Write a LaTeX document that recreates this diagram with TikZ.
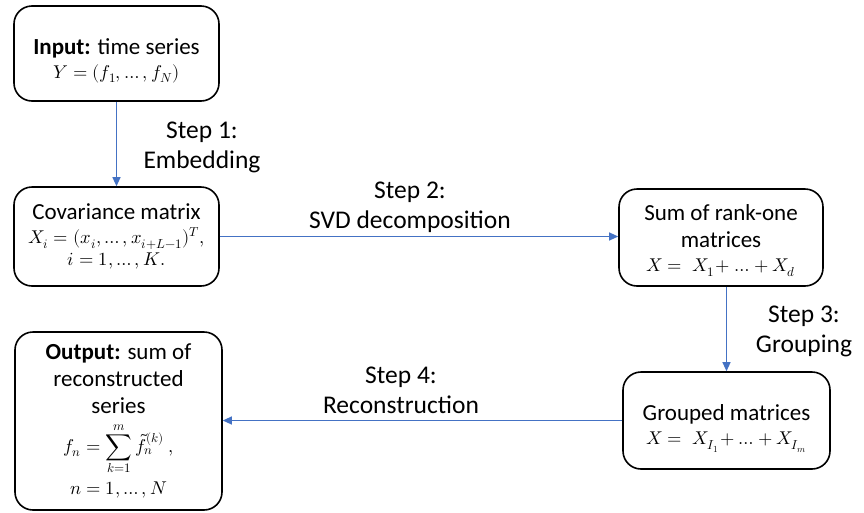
\documentclass[tikz,border=0pt]{standalone}
\usepackage{fontspec}
\usepackage{unicode-math}
\setmainfont{Carlito}
\setmathfont{Latin Modern Math}
\usetikzlibrary{arrows.meta}
\definecolor{arrowblue}{HTML}{4472C4}
\tikzset{
  box/.style={draw=black, line width=1.6pt, rounded corners=18pt, align=center,
    inner sep=0pt, font=\fontsize{23}{27}\selectfont},
  flow/.style={draw=arrowblue, line width=1.1pt, -{Triangle[length=9pt,width=8pt]}},
  steplabel/.style={align=center, inner sep=0pt, font=\fontsize{25.5}{30}\selectfont}
}
\newcommand{\mth}[1]{{\fontsize{18.5}{22}\selectfont$#1$}}
\begin{document}
\begin{tikzpicture}[x=1pt,y=-1pt]
\useasboundingbox (0,0) rectangle (864,512);
\node[box, minimum width=205pt, minimum height=95pt] (in) at (116.5,53.5)
  {\rule{0pt}{30pt}\textbf{Input:} time series\\[-3pt] \mth{Y=(f_1,\ldots,f_N)}};
\node[box, minimum width=205pt, minimum height=99pt] (cov) at (116.5,236.5)
  {Covariance matrix\\[-3pt] \mth{X_i=(x_i,\ldots,x_{i+L-1})^T,}\\[-5pt] \mth{i=1,\ldots,K.}};
\node[box, minimum width=204pt, minimum height=97pt] (sum) at (721,237.5)
  {\rule{0pt}{22pt}Sum of rank-one\\ matrices\\[-3pt] \mth{X=\;X_1\!+\ldots+X_d}};
\node[box, minimum width=207pt, minimum height=97pt] (grp) at (726.5,420.5)
  {\rule{0pt}{32pt}Grouped matrices\\[-3pt] \mth{X=\;X_{I_1}\!+\ldots+X_{I_m}}};
\node[box, minimum width=207pt, minimum height=178pt] (out) at (118.5,421)
  {\textbf{Output:} sum of\\ reconstructed\\ series\\[8pt]
   \mth{\displaystyle f_n=\sum_{k=1}^{m}\tilde{f}_n^{(k)}\ ,}\\[6pt] \mth{n=1,\ldots,N}};
\node[steplabel] (s1) at (202,147) {Step 1:\\ Embedding};
\node[steplabel] (s2) at (410,207) {Step 2:\\ SVD decomposition};
\node[steplabel] (s3) at (804,331) {Step 3:\\ Grouping};
\node[steplabel] (s4) at (401,390) {Step 4:\\ Reconstruction};
\draw[flow] (in.south) -- (cov.north);
\draw[flow] (cov.east) -- (cov.east -| sum.west);
\draw[flow] (sum.south -| grp.north) -- (grp.north);
\draw[flow] (grp.west) -- (grp.west -| out.east);
\end{tikzpicture}
\end{document}
